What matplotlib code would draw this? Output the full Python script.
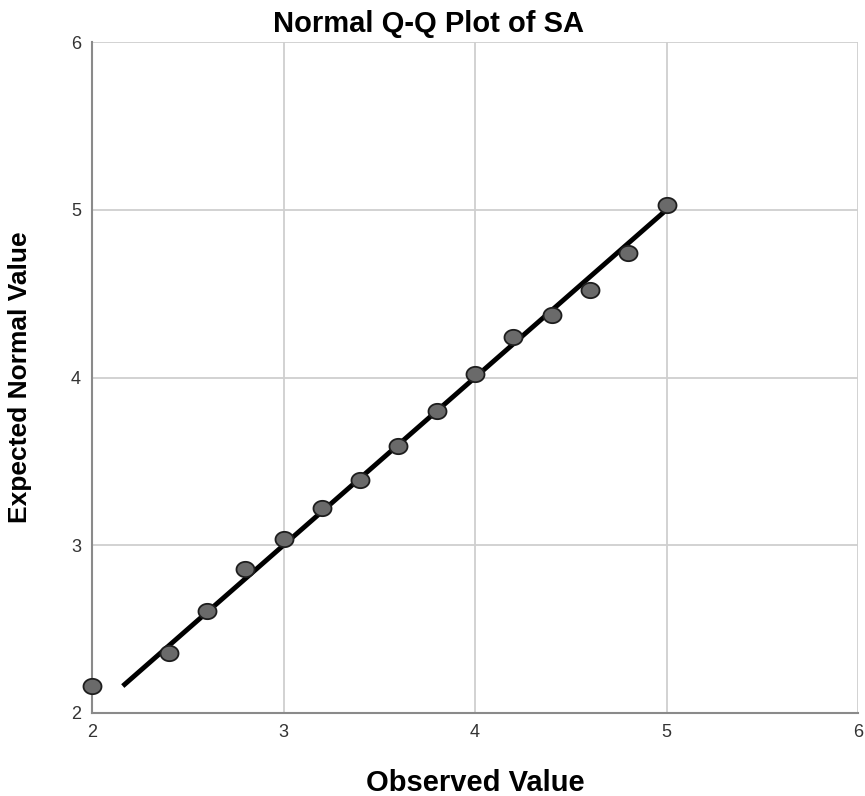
import numpy as np
import matplotlib
matplotlib.use("Agg")
import matplotlib.pyplot as plt
from matplotlib.path import Path

plt.rcParams["font.family"] = ["Liberation Sans", "DejaVu Sans"]

observed = [2.0, 2.4, 2.6, 2.8, 3.0, 3.2, 3.4, 3.6, 3.8, 4.0, 4.2, 4.4, 4.6, 4.8, 5.0]
expected = [2.16, 2.36, 2.61, 2.86, 3.04, 3.22, 3.39, 3.59, 3.80, 4.02, 4.24, 4.37, 4.52, 4.74, 5.03]
line_x = [2.17, 5.0]
ticks = [2, 3, 4, 5, 6]

# slightly flattened circle, like the original markers
t = np.linspace(0, 2 * np.pi, 40)
ellipse = Path(np.column_stack([np.cos(t), 0.85 * np.sin(t)]), closed=True)

fig = plt.figure(figsize=(8.65, 7.96), dpi=100)
ax = fig.add_axes([0.1064, 0.1043, 0.8855, 0.8429])

ax.set_xlim(2, 6)
ax.set_ylim(2, 6)
ax.set_xticks(ticks)
ax.set_yticks(ticks)
ax.grid(True, color="#cfcfcf", linewidth=1.3)
ax.set_axisbelow(True)

for s in ["top", "right"]:
    ax.spines[s].set_visible(False)
for s in ["left", "bottom"]:
    ax.spines[s].set_color("#8a8a8a")
    ax.spines[s].set_linewidth(1.5)

ax.tick_params(length=0, labelsize=13, colors="#333333", pad=8)

ax.plot(line_x, line_x, color="black", linewidth=3.5, zorder=3)
ax.plot(observed, expected, linestyle="none", marker=ellipse, markersize=13,
        markerfacecolor="#6a6a6a", markeredgecolor="#1e1e1e", markeredgewidth=1.3,
        zorder=4, clip_on=False)

fig.suptitle("Normal Q-Q Plot of SA", x=0.495, y=0.988, fontsize=21, fontweight="bold")
ax.set_xlabel("Observed Value", fontsize=21, fontweight="bold", labelpad=20)
ax.set_ylabel("Expected Normal Value", fontsize=19, fontweight="bold", labelpad=28)

fig.savefig("out.png", dpi=100)
